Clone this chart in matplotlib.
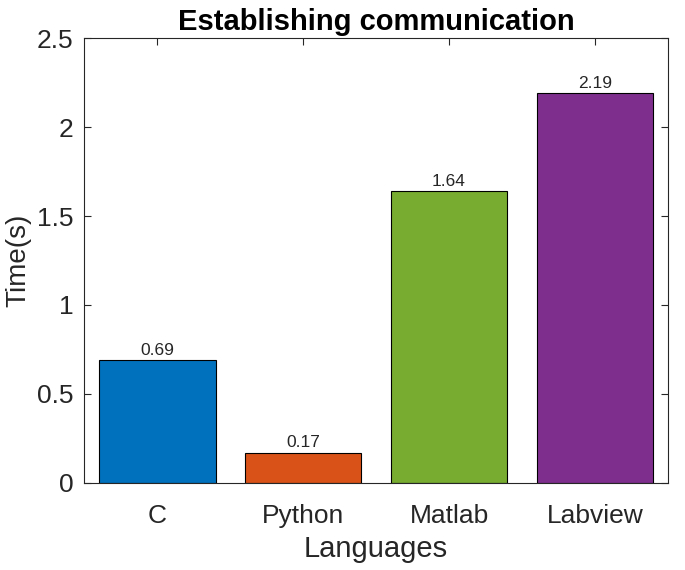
import matplotlib
matplotlib.use("Agg")
import matplotlib.pyplot as plt

# data
languages = ["C", "Python", "Matlab", "Labview"]
times = [0.69, 0.17, 1.64, 2.19]
colors = ["#0072BD", "#D95319", "#77AC30", "#7E2F8E"]
yticks = [0, 0.5, 1, 1.5, 2, 2.5]
ytick_labels = ["0", "0.5", "1", "1.5", "2", "2.5"]

plt.rcParams['font.family'] = ['Liberation Sans', 'DejaVu Sans']
ink = "#262626"

fig = plt.figure(figsize=(6.85, 5.70), dpi=100)
ax = fig.add_axes([0.123, 0.153, 0.852, 0.78])

pos = list(range(1, len(languages) + 1))
bars = ax.bar(pos, times, width=0.8, color=colors, edgecolor="black", linewidth=0.8, zorder=2)
for b, v in zip(bars, times):
    ax.text(b.get_x() + b.get_width() / 2, v + 0.012, f"{v:.2f}", ha="center", va="bottom",
            fontsize=12.5, color=ink)

ax.set_xlim(0.5, 4.5)
ax.set_ylim(0, 2.5)
ax.set_xticks(pos)
ax.set_xticklabels(languages)
ax.set_yticks(yticks)
ax.set_yticklabels(ytick_labels)
ax.tick_params(direction="in", length=5, width=0.8, colors=ink, labelsize=19,
               top=True, right=True, pad=8)
ax.tick_params(axis="x", pad=15)
for s in ax.spines.values():
    s.set_color(ink)
    s.set_linewidth(0.8)

ax.set_xlabel("Languages", fontsize=21, color=ink, labelpad=5)
ax.set_ylabel("Time(s)", fontsize=20, color=ink, labelpad=4)
ax.set_title("Establishing communication", fontsize=21, fontweight="bold", color="black", pad=6)

fig.savefig("out.png", dpi=100)
